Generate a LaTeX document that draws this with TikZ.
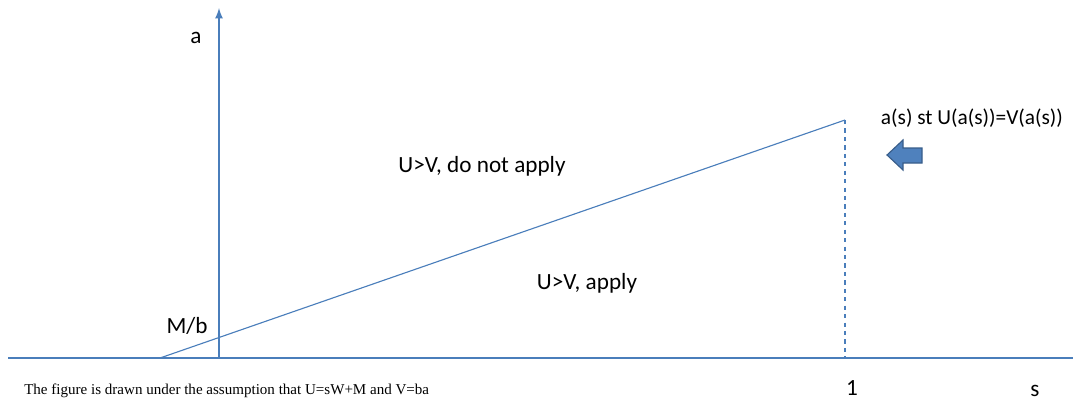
\documentclass[tikz,border=0pt]{standalone}
\usepackage{fontspec}
\setmainfont{Carlito}
\newfontfamily\capfont{Liberation Serif}
\definecolor{axisblue}{HTML}{4A7EBB}
\definecolor{arrowfill}{HTML}{4F81BD}
\definecolor{arrowedge}{HTML}{385D8A}
\tikzset{
  lbl/.style={font=\fontsize{16.5}{19}\selectfont, inner sep=0pt},
  axis/.style={draw=axisblue, line width=1.5pt},
  curve/.style={draw=axisblue, line width=0.8pt}
}

\begin{document}
\begin{tikzpicture}[x=0.025cm, y=-0.025cm]
\useasboundingbox (0,0) rectangle (1073,404);
\coordinate (o) at (219,358);
\coordinate (xl) at (8,358);
\coordinate (xr) at (1073,358);
\coordinate (ytop) at (219,8);
\coordinate (p0) at (160,358);
\coordinate (p1) at (845,120);
\coordinate (p1b) at (845,358);

\draw [axis] (xl) -- (xr);
\draw [axis,-latex] (o) -- (ytop);
\draw [curve] (p0) -- (p1);
\draw [curve,dashed] (p1) -- (p1b);

% block arrow pointing left
\filldraw [fill=arrowfill, draw=arrowedge, line width=0.8pt]
  (887,155) -- (903,140) -- (903,148) -- (922,148) -- (922,163) -- (903,163) -- (903,170) -- cycle;

\node [lbl] (la) at (196,38) {a};
\node [lbl] (lmb) at (187,326) {M/b};
\node [lbl] (lno) at (482,166) {U>V, do not apply};
\node [lbl] (lyes) at (587,283) {U>V, apply};
\node [lbl,font=\fontsize{15.2}{18}\selectfont] (lst) at (972,118) {a(s) st U(a(s))=V(a(s))};
\node [lbl] (lone) at (852,388) {1};
\node [lbl] (ls) at (1035,391) {s};
\node [font=\capfont\fontsize{10.7}{12}\selectfont, inner sep=0pt, anchor=west] (cap) at (24,391)
  {The figure is drawn under the assumption that U=sW+M and V=ba};
\end{tikzpicture}
\end{document}
